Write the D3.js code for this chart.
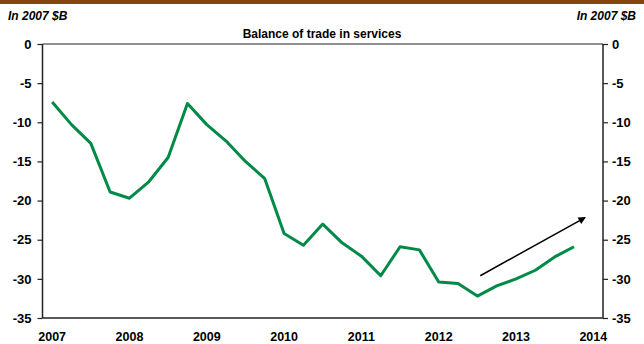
<!DOCTYPE html>
<html>
<head>
<meta charset="utf-8">
<script src="https://cdn.jsdelivr.net/npm/d3@7"></script>
<style>
  body { margin: 0; background: #fff; }
  text { font-family: Arial, "Liberation Sans", sans-serif; font-weight: bold; fill: #000; }
</style>
</head>
<body>
<svg id="chart" width="644" height="344"></svg>
<script>
// quarterly values, 2007 Q1 .. 2013 Q4 (In 2007 $B)
var quarters = d3.range(0, 28);
var balance = [-7.4, -10.3, -12.7, -18.9, -19.7, -17.6, -14.5, -7.6,
  -10.3, -12.4, -15.0, -17.2, -24.2, -25.7, -23.0, -25.4,
  -27.1, -29.6, -25.9, -26.3, -30.4, -30.6, -32.2, -30.9,
  -30.0, -28.9, -27.2, -25.9];
var yearLabels = ["2007", "2008", "2009", "2010", "2011", "2012", "2013", "2014"];
var yTicks = [0, -5, -10, -15, -20, -25, -30, -35];
// trend arrow, in data units (quarter index, $B)
var arrowFrom = [22.15, -29.6];
var arrowTo = [27.55, -22.2];

var svg = d3.select("#chart");
// note: "top" is a reserved window property, so use plot* names
var plotLeft = 42.5, plotRight = 603, plotTop = 44, plotBottom = 318;

// brown strip on top
svg.append("rect")
  .attr("x", 0).attr("y", 0)
  .attr("width", 644).attr("height", 4)
  .attr("fill", "#86440f");

var xScale = d3.scaleLinear().domain([-0.5, 28.5]).range([plotLeft, plotRight]);
var yScale = d3.scaleLinear().domain([-35, 0]).range([plotBottom, plotTop]);

// unit labels
svg.append("text").text("In 2007 $B")
  .attr("x", 8).attr("y", 20)
  .style("font-size", "12px").style("font-style", "italic");
svg.append("text").text("In 2007 $B")
  .attr("x", 636).attr("y", 20)
  .attr("text-anchor", "end")
  .style("font-size", "12px").style("font-style", "italic");

// title
svg.append("text").text("Balance of trade in services")
  .attr("x", 322).attr("y", 38)
  .attr("text-anchor", "middle")
  .style("font-size", "12px");

// plain hyphen minus like the original, not d3's unicode minus
var tickFmt = function (d) { return String(d); };

// left axis
var leftAxis = d3.axisLeft(yScale).tickValues(yTicks).tickSize(5).tickPadding(6).tickFormat(tickFmt);
var gl = svg.append("g").attr("transform", `translate(${plotLeft},0)`).call(leftAxis);

// right axis
var rightAxis = d3.axisRight(yScale).tickValues(yTicks).tickSize(5).tickPadding(4).tickFormat(tickFmt);
var gr = svg.append("g").attr("transform", `translate(${plotRight},0)`).call(rightAxis);

[gl, gr].forEach(function (g) {
  g.select(".domain").remove();
  g.selectAll(".tick line").attr("stroke", "#222").attr("stroke-width", 1.2);
  g.selectAll(".tick text")
    .style("font-size", "13px")
    .style("font-family", "Arial, 'Liberation Sans', sans-serif")
    .style("font-weight", "bold")
    .attr("fill", "#000");
});

// frame lines: left, right, top, bottom
svg.append("line").attr("x1", plotLeft).attr("x2", plotLeft).attr("y1", plotTop).attr("y2", plotBottom)
  .attr("stroke", "#222").attr("stroke-width", 1.5);
svg.append("line").attr("x1", plotRight).attr("x2", plotRight).attr("y1", plotTop).attr("y2", plotBottom)
  .attr("stroke", "#222").attr("stroke-width", 1.5);
svg.append("line").attr("x1", plotLeft).attr("x2", plotRight).attr("y1", plotTop).attr("y2", plotTop)
  .attr("stroke", "#222").attr("stroke-width", 1.2);
svg.append("line").attr("x1", plotLeft).attr("x2", plotRight).attr("y1", plotBottom).attr("y2", plotBottom)
  .attr("stroke", "#222").attr("stroke-width", 1.5);

// year labels every 4 quarters
svg.selectAll(".year")
  .data(yearLabels)
  .enter().append("text")
  .attr("class", "year")
  .attr("x", function (d, i) { return xScale(i * 4); })
  .attr("y", 341)
  .attr("text-anchor", "middle")
  .style("font-size", "12.5px")
  .text(function (d) { return d; });

// the series
var line = d3.line()
  .x(function (d, i) { return xScale(quarters[i]); })
  .y(function (d) { return yScale(d); });

svg.append("path")
  .datum(balance)
  .attr("d", line)
  .attr("fill", "none")
  .attr("stroke", "#008a47")
  .attr("stroke-width", 3)
  .attr("stroke-linejoin", "round");

// arrow
svg.append("defs").append("marker")
  .attr("id", "arrowhead")
  .attr("viewBox", "0 0 10 10")
  .attr("refX", 8).attr("refY", 5)
  .attr("markerWidth", 6).attr("markerHeight", 5)
  .attr("orient", "auto")
  .append("path")
  .attr("d", "M0,0 L10,5 L0,10 z")
  .attr("fill", "#000");

svg.append("line")
  .attr("x1", xScale(arrowFrom[0])).attr("y1", yScale(arrowFrom[1]))
  .attr("x2", xScale(arrowTo[0])).attr("y2", yScale(arrowTo[1]))
  .attr("stroke", "#000")
  .attr("stroke-width", 1.5)
  .attr("marker-end", "url(#arrowhead)");
</script>
</body>
</html>
